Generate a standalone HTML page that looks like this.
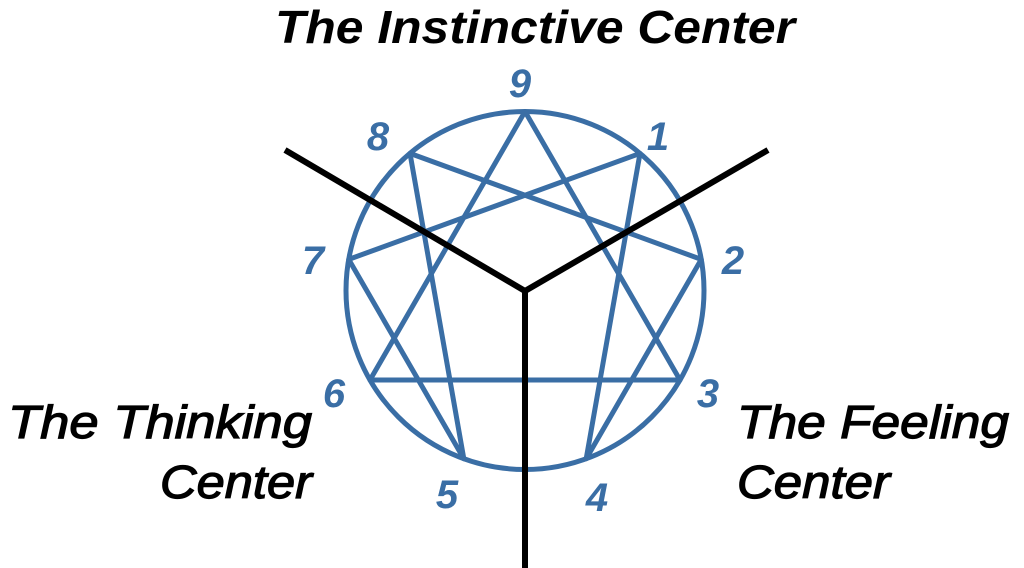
<!DOCTYPE html>
<html><head><meta charset="utf-8"><style>
html,body{margin:0;padding:0;background:#fff;}
svg{display:block}
</style></head><body>
<svg width="1024" height="568" viewBox="0 0 1024 568" xmlns="http://www.w3.org/2000/svg">
<g fill="none" stroke="#3a6ea5" stroke-width="5" stroke-linejoin="round">
<circle cx="525" cy="290.5" r="179"/>
<polygon points="525,111.5 680,380 370,380"/>
<polygon points="640,153.4 586.2,458.7 701.3,259.4 410,153.4 463.8,458.7 348.7,259.4"/>
</g>
<g stroke="#000" stroke-width="6" stroke-linecap="butt">
<line x1="525" y1="291" x2="285" y2="150"/>
<line x1="525" y1="291" x2="768" y2="150"/>
<line x1="525" y1="288" x2="525" y2="568"/>
</g>
<g font-family="Liberation Sans, sans-serif" font-style="italic" font-weight="bold" fill="#000">
<text x="275" y="43" font-size="46" textLength="520" lengthAdjust="spacingAndGlyphs">The Instinctive Center</text>
</g>
<g font-family="Liberation Sans, sans-serif" font-style="italic" fill="#000" font-size="46" stroke="#000" stroke-width="1.2">
<text x="8" y="438" textLength="304" lengthAdjust="spacingAndGlyphs">The Thinking</text>
<text x="160" y="498" textLength="152" lengthAdjust="spacingAndGlyphs">Center</text>
<text x="737" y="438" textLength="272" lengthAdjust="spacingAndGlyphs">The Feeling</text>
<text x="737" y="498" textLength="153" lengthAdjust="spacingAndGlyphs">Center</text>
</g>
<g font-family="Liberation Sans, sans-serif" font-style="italic" font-weight="bold" fill="#3a6ea5" font-size="40" text-anchor="middle">
<text x="520" y="97">9</text>
<text x="658" y="150">1</text>
<text x="733" y="274">2</text>
<text x="708" y="407">3</text>
<text x="597" y="511">4</text>
<text x="447" y="508">5</text>
<text x="334" y="407">6</text>
<text x="313" y="274">7</text>
<text x="378" y="150">8</text>
</g>
</svg>
</body></html>
